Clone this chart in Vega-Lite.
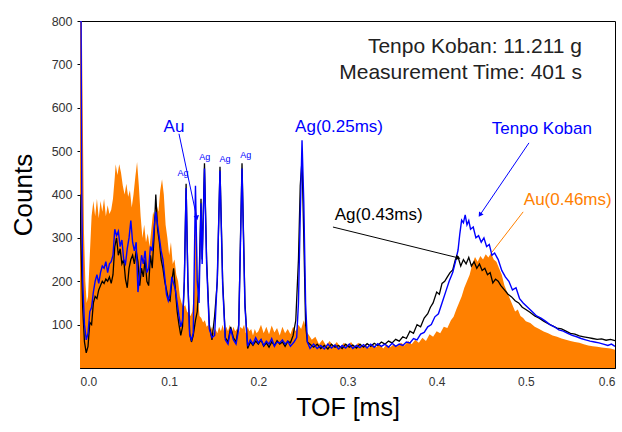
{
  "$schema": "https://vega.github.io/schema/vega-lite/v6.json",
  "width": 535,
  "height": 347,
  "autosize": {"type": "none"},
  "padding": {"left": 80, "top": 21, "right": 7, "bottom": 64},
  "background": "white",
  "config": {
    "view": {"stroke": "#000", "strokeWidth": 1},
    "font": "Liberation Sans",
    "axis": {"grid": false, "domainColor": "#000", "tickColor": "#000", "labelFont": "Liberation Sans", "titleFont": "Liberation Sans", "titleFontWeight": "normal", "labelColor": "#333"}
  },
  "datasets": {
    "au": [
      {"t":0,"c":800},{"t":0.002,"c":800},{"t":0.003,"c":600},{"t":0.0045,"c":310},{"t":0.006,"c":200},{"t":0.0075,"c":150},{"t":0.009,"c":165},{"t":0.011,"c":260},{"t":0.013,"c":350},{"t":0.015,"c":385},{"t":0.017,"c":350},{"t":0.019,"c":390},{"t":0.021,"c":345},{"t":0.023,"c":385},{"t":0.025,"c":360},{"t":0.027,"c":390},{"t":0.029,"c":350},{"t":0.031,"c":375},{"t":0.033,"c":355},{"t":0.035,"c":365},{"t":0.037,"c":390},{"t":0.039,"c":440},{"t":0.040,"c":470},{"t":0.042,"c":445},{"t":0.044,"c":470},{"t":0.046,"c":450},{"t":0.048,"c":420},{"t":0.050,"c":400},{"t":0.052,"c":425},{"t":0.054,"c":395},{"t":0.056,"c":410},{"t":0.058,"c":370},{"t":0.060,"c":400},{"t":0.062,"c":440},{"t":0.064,"c":475},{"t":0.066,"c":420},{"t":0.068,"c":350},{"t":0.070,"c":300},{"t":0.072,"c":330},{"t":0.074,"c":290},{"t":0.076,"c":310},{"t":0.078,"c":280},{"t":0.080,"c":320},{"t":0.082,"c":360},{"t":0.084,"c":345},{"t":0.086,"c":375},{"t":0.088,"c":360},{"t":0.090,"c":410},{"t":0.092,"c":435},{"t":0.094,"c":400},{"t":0.096,"c":330},{"t":0.098,"c":300},{"t":0.100,"c":260},{"t":0.102,"c":290},{"t":0.104,"c":240},{"t":0.106,"c":250},{"t":0.108,"c":215},{"t":0.110,"c":200},{"t":0.112,"c":165},{"t":0.114,"c":150},{"t":0.116,"c":140},{"t":0.118,"c":145},{"t":0.120,"c":130},{"t":0.122,"c":125},{"t":0.124,"c":120},{"t":0.126,"c":130},{"t":0.128,"c":180},{"t":0.129,"c":320},{"t":0.130,"c":380},{"t":0.131,"c":330},{"t":0.132,"c":170},{"t":0.134,"c":120},{"t":0.136,"c":115},{"t":0.138,"c":105},{"t":0.140,"c":110},{"t":0.142,"c":95},{"t":0.144,"c":100},{"t":0.146,"c":85},{"t":0.148,"c":95},{"t":0.150,"c":80},{"t":0.152,"c":90},{"t":0.154,"c":80},{"t":0.156,"c":95},{"t":0.158,"c":85},{"t":0.160,"c":100},{"t":0.162,"c":80},{"t":0.164,"c":95},{"t":0.166,"c":85},{"t":0.168,"c":100},{"t":0.170,"c":80},{"t":0.172,"c":95},{"t":0.174,"c":85},{"t":0.176,"c":90},{"t":0.178,"c":80},{"t":0.180,"c":95},{"t":0.182,"c":90},{"t":0.184,"c":100},{"t":0.186,"c":80},{"t":0.188,"c":95},{"t":0.190,"c":85},{"t":0.192,"c":90},{"t":0.194,"c":75},{"t":0.196,"c":90},{"t":0.198,"c":80},{"t":0.200,"c":85},{"t":0.203,"c":100},{"t":0.206,"c":80},{"t":0.209,"c":95},{"t":0.212,"c":78},{"t":0.215,"c":98},{"t":0.218,"c":82},{"t":0.221,"c":92},{"t":0.224,"c":75},{"t":0.227,"c":95},{"t":0.230,"c":80},{"t":0.233,"c":90},{"t":0.236,"c":78},{"t":0.239,"c":95},{"t":0.242,"c":85},{"t":0.245,"c":100},{"t":0.248,"c":90},{"t":0.251,"c":110},{"t":0.254,"c":85},{"t":0.257,"c":75},{"t":0.260,"c":65},{"t":0.264,"c":72},{"t":0.268,"c":55},{"t":0.272,"c":65},{"t":0.276,"c":52},{"t":0.280,"c":62},{"t":0.284,"c":50},{"t":0.288,"c":60},{"t":0.292,"c":48},{"t":0.296,"c":58},{"t":0.300,"c":50},{"t":0.304,"c":60},{"t":0.308,"c":48},{"t":0.312,"c":58},{"t":0.316,"c":50},{"t":0.320,"c":55},{"t":0.324,"c":46},{"t":0.328,"c":56},{"t":0.332,"c":48},{"t":0.336,"c":55},{"t":0.340,"c":45},{"t":0.344,"c":54},{"t":0.348,"c":48},{"t":0.352,"c":55},{"t":0.356,"c":50},{"t":0.360,"c":58},{"t":0.364,"c":52},{"t":0.368,"c":62},{"t":0.372,"c":55},{"t":0.376,"c":65},{"t":0.380,"c":58},{"t":0.384,"c":70},{"t":0.388,"c":62},{"t":0.392,"c":78},{"t":0.396,"c":72},{"t":0.400,"c":85},{"t":0.404,"c":80},{"t":0.408,"c":95},{"t":0.412,"c":92},{"t":0.416,"c":110},{"t":0.419,"c":118},{"t":0.422,"c":135},{"t":0.425,"c":150},{"t":0.428,"c":165},{"t":0.431,"c":185},{"t":0.434,"c":200},{"t":0.437,"c":215},{"t":0.440,"c":240},{"t":0.443,"c":256},{"t":0.446,"c":245},{"t":0.449,"c":258},{"t":0.452,"c":250},{"t":0.455,"c":262},{"t":0.458,"c":255},{"t":0.461,"c":265},{"t":0.464,"c":250},{"t":0.467,"c":245},{"t":0.470,"c":230},{"t":0.473,"c":215},{"t":0.476,"c":190},{"t":0.479,"c":175},{"t":0.482,"c":160},{"t":0.485,"c":145},{"t":0.488,"c":130},{"t":0.491,"c":135},{"t":0.494,"c":120},{"t":0.497,"c":115},{"t":0.500,"c":108},{"t":0.505,"c":104},{"t":0.510,"c":95},{"t":0.515,"c":90},{"t":0.520,"c":84},{"t":0.525,"c":80},{"t":0.530,"c":75},{"t":0.535,"c":72},{"t":0.540,"c":68},{"t":0.545,"c":65},{"t":0.550,"c":62},{"t":0.555,"c":60},{"t":0.560,"c":58},{"t":0.565,"c":55},{"t":0.570,"c":52},{"t":0.575,"c":50},{"t":0.580,"c":49},{"t":0.585,"c":47},{"t":0.590,"c":46},{"t":0.595,"c":45},{"t":0.600,"c":42}
    ],
    "ag": [
      {"t":0,"c":400},{"t":0.001,"c":290},{"t":0.003,"c":140},{"t":0.005,"c":60},{"t":0.007,"c":35},{"t":0.009,"c":50},{"t":0.011,"c":105},{"t":0.013,"c":100},{"t":0.015,"c":150},{"t":0.017,"c":165},{"t":0.019,"c":160},{"t":0.021,"c":180},{"t":0.023,"c":190},{"t":0.025,"c":200},{"t":0.027,"c":195},{"t":0.029,"c":205},{"t":0.031,"c":200},{"t":0.033,"c":210},{"t":0.035,"c":195},{"t":0.037,"c":215},{"t":0.039,"c":280},{"t":0.041,"c":300},{"t":0.043,"c":260},{"t":0.045,"c":275},{"t":0.047,"c":240},{"t":0.049,"c":250},{"t":0.051,"c":205},{"t":0.053,"c":185},{"t":0.055,"c":230},{"t":0.057,"c":250},{"t":0.059,"c":260},{"t":0.061,"c":240},{"t":0.063,"c":270},{"t":0.065,"c":245},{"t":0.067,"c":190},{"t":0.069,"c":230},{"t":0.071,"c":210},{"t":0.073,"c":250},{"t":0.075,"c":200},{"t":0.077,"c":190},{"t":0.079,"c":260},{"t":0.081,"c":230},{"t":0.083,"c":300},{"t":0.085,"c":400},{"t":0.087,"c":320},{"t":0.089,"c":290},{"t":0.091,"c":250},{"t":0.093,"c":230},{"t":0.095,"c":200},{"t":0.097,"c":180},{"t":0.099,"c":160},{"t":0.101,"c":155},{"t":0.103,"c":200},{"t":0.105,"c":230},{"t":0.107,"c":180},{"t":0.109,"c":130},{"t":0.111,"c":100},{"t":0.113,"c":75},{"t":0.115,"c":95},{"t":0.117,"c":200},{"t":0.119,"c":425},{"t":0.121,"c":200},{"t":0.123,"c":80},{"t":0.125,"c":60},{"t":0.127,"c":75},{"t":0.1295,"c":110},{"t":0.1315,"c":130},{"t":0.1335,"c":200},{"t":0.1357,"c":390},{"t":0.137,"c":250},{"t":0.1396,"c":472},{"t":0.142,"c":250},{"t":0.145,"c":100},{"t":0.148,"c":65},{"t":0.151,"c":120},{"t":0.154,"c":200},{"t":0.157,"c":464},{"t":0.160,"c":200},{"t":0.163,"c":70},{"t":0.166,"c":60},{"t":0.169,"c":95},{"t":0.172,"c":70},{"t":0.175,"c":60},{"t":0.178,"c":100},{"t":0.1817,"c":472},{"t":0.185,"c":150},{"t":0.188,"c":45},{"t":0.191,"c":60},{"t":0.194,"c":52},{"t":0.197,"c":62},{"t":0.200,"c":55},{"t":0.203,"c":65},{"t":0.206,"c":50},{"t":0.209,"c":58},{"t":0.212,"c":48},{"t":0.215,"c":60},{"t":0.218,"c":52},{"t":0.221,"c":63},{"t":0.224,"c":55},{"t":0.227,"c":60},{"t":0.230,"c":50},{"t":0.233,"c":62},{"t":0.236,"c":58},{"t":0.239,"c":75},{"t":0.242,"c":110},{"t":0.245,"c":250},{"t":0.247,"c":420},{"t":0.249,"c":480},{"t":0.251,"c":300},{"t":0.253,"c":100},{"t":0.255,"c":60},{"t":0.258,"c":55},{"t":0.262,"c":48},{"t":0.266,"c":55},{"t":0.270,"c":45},{"t":0.274,"c":52},{"t":0.278,"c":44},{"t":0.282,"c":55},{"t":0.286,"c":48},{"t":0.290,"c":52},{"t":0.294,"c":45},{"t":0.298,"c":55},{"t":0.302,"c":48},{"t":0.306,"c":53},{"t":0.310,"c":46},{"t":0.314,"c":55},{"t":0.318,"c":48},{"t":0.322,"c":56},{"t":0.326,"c":50},{"t":0.330,"c":57},{"t":0.334,"c":52},{"t":0.338,"c":60},{"t":0.342,"c":55},{"t":0.346,"c":62},{"t":0.350,"c":58},{"t":0.354,"c":66},{"t":0.358,"c":62},{"t":0.362,"c":72},{"t":0.366,"c":68},{"t":0.370,"c":85},{"t":0.374,"c":80},{"t":0.378,"c":100},{"t":0.382,"c":95},{"t":0.386,"c":115},{"t":0.390,"c":125},{"t":0.393,"c":140},{"t":0.396,"c":150},{"t":0.400,"c":175},{"t":0.403,"c":170},{"t":0.406,"c":195},{"t":0.409,"c":200},{"t":0.412,"c":210},{"t":0.415,"c":220},{"t":0.418,"c":226},{"t":0.421,"c":250},{"t":0.424,"c":256},{"t":0.427,"c":235},{"t":0.430,"c":250},{"t":0.433,"c":240},{"t":0.436,"c":255},{"t":0.439,"c":235},{"t":0.442,"c":245},{"t":0.445,"c":230},{"t":0.448,"c":240},{"t":0.451,"c":225},{"t":0.454,"c":230},{"t":0.457,"c":215},{"t":0.460,"c":220},{"t":0.463,"c":196},{"t":0.466,"c":205},{"t":0.469,"c":200},{"t":0.472,"c":190},{"t":0.476,"c":180},{"t":0.480,"c":170},{"t":0.484,"c":164},{"t":0.488,"c":155},{"t":0.492,"c":150},{"t":0.496,"c":140},{"t":0.500,"c":135},{"t":0.505,"c":128},{"t":0.510,"c":120},{"t":0.515,"c":115},{"t":0.520,"c":108},{"t":0.525,"c":102},{"t":0.530,"c":97},{"t":0.535,"c":92},{"t":0.540,"c":90},{"t":0.545,"c":85},{"t":0.550,"c":80},{"t":0.555,"c":78},{"t":0.560,"c":74},{"t":0.565,"c":72},{"t":0.570,"c":70},{"t":0.575,"c":68},{"t":0.580,"c":66},{"t":0.585,"c":67},{"t":0.590,"c":64},{"t":0.595,"c":66},{"t":0.600,"c":63}
    ],
    "koban": [
      {"t":0,"c":800},{"t":0.0012,"c":800},{"t":0.002,"c":400},{"t":0.003,"c":200},{"t":0.005,"c":100},{"t":0.007,"c":65},{"t":0.009,"c":80},{"t":0.011,"c":130},{"t":0.013,"c":140},{"t":0.015,"c":175},{"t":0.017,"c":200},{"t":0.019,"c":215},{"t":0.021,"c":195},{"t":0.023,"c":220},{"t":0.025,"c":235},{"t":0.027,"c":230},{"t":0.029,"c":245},{"t":0.031,"c":220},{"t":0.033,"c":240},{"t":0.035,"c":245},{"t":0.037,"c":260},{"t":0.039,"c":320},{"t":0.041,"c":305},{"t":0.043,"c":315},{"t":0.045,"c":280},{"t":0.047,"c":295},{"t":0.049,"c":250},{"t":0.051,"c":240},{"t":0.053,"c":275},{"t":0.055,"c":300},{"t":0.057,"c":340},{"t":0.059,"c":290},{"t":0.061,"c":270},{"t":0.063,"c":290},{"t":0.065,"c":175},{"t":0.067,"c":215},{"t":0.069,"c":260},{"t":0.071,"c":240},{"t":0.073,"c":270},{"t":0.075,"c":220},{"t":0.077,"c":230},{"t":0.079,"c":280},{"t":0.081,"c":270},{"t":0.083,"c":320},{"t":0.085,"c":360},{"t":0.087,"c":330},{"t":0.089,"c":300},{"t":0.091,"c":270},{"t":0.093,"c":250},{"t":0.095,"c":210},{"t":0.097,"c":170},{"t":0.099,"c":155},{"t":0.101,"c":170},{"t":0.103,"c":210},{"t":0.105,"c":195},{"t":0.107,"c":180},{"t":0.109,"c":150},{"t":0.111,"c":120},{"t":0.113,"c":95},{"t":0.115,"c":110},{"t":0.117,"c":200},{"t":0.119,"c":415},{"t":0.121,"c":200},{"t":0.123,"c":75},{"t":0.125,"c":65},{"t":0.127,"c":80},{"t":0.1295,"c":420},{"t":0.1315,"c":200},{"t":0.1335,"c":150},{"t":0.1357,"c":380},{"t":0.137,"c":240},{"t":0.1396,"c":460},{"t":0.142,"c":240},{"t":0.145,"c":90},{"t":0.148,"c":70},{"t":0.151,"c":75},{"t":0.154,"c":210},{"t":0.157,"c":455},{"t":0.160,"c":190},{"t":0.163,"c":65},{"t":0.166,"c":55},{"t":0.169,"c":90},{"t":0.172,"c":65},{"t":0.175,"c":55},{"t":0.178,"c":90},{"t":0.1817,"c":460},{"t":0.185,"c":140},{"t":0.188,"c":50},{"t":0.191,"c":65},{"t":0.194,"c":55},{"t":0.197,"c":70},{"t":0.200,"c":58},{"t":0.203,"c":66},{"t":0.206,"c":52},{"t":0.209,"c":62},{"t":0.212,"c":55},{"t":0.215,"c":68},{"t":0.218,"c":50},{"t":0.221,"c":60},{"t":0.224,"c":58},{"t":0.227,"c":65},{"t":0.230,"c":55},{"t":0.233,"c":62},{"t":0.236,"c":50},{"t":0.240,"c":60},{"t":0.243,"c":70},{"t":0.245,"c":150},{"t":0.247,"c":350},{"t":0.249,"c":525},{"t":0.251,"c":380},{"t":0.253,"c":150},{"t":0.255,"c":60},{"t":0.258,"c":45},{"t":0.262,"c":55},{"t":0.266,"c":45},{"t":0.270,"c":52},{"t":0.274,"c":44},{"t":0.278,"c":55},{"t":0.282,"c":46},{"t":0.286,"c":53},{"t":0.290,"c":44},{"t":0.294,"c":52},{"t":0.298,"c":46},{"t":0.302,"c":55},{"t":0.306,"c":45},{"t":0.310,"c":52},{"t":0.314,"c":47},{"t":0.318,"c":54},{"t":0.322,"c":46},{"t":0.326,"c":55},{"t":0.330,"c":48},{"t":0.334,"c":56},{"t":0.338,"c":50},{"t":0.342,"c":55},{"t":0.346,"c":48},{"t":0.350,"c":57},{"t":0.354,"c":50},{"t":0.358,"c":55},{"t":0.362,"c":52},{"t":0.366,"c":60},{"t":0.370,"c":58},{"t":0.374,"c":68},{"t":0.378,"c":65},{"t":0.382,"c":78},{"t":0.386,"c":82},{"t":0.390,"c":95},{"t":0.394,"c":100},{"t":0.398,"c":118},{"t":0.402,"c":125},{"t":0.406,"c":150},{"t":0.410,"c":175},{"t":0.414,"c":200},{"t":0.418,"c":220},{"t":0.421,"c":245},{"t":0.424,"c":272},{"t":0.426,"c":310},{"t":0.428,"c":341},{"t":0.430,"c":335},{"t":0.432,"c":353},{"t":0.434,"c":330},{"t":0.436,"c":340},{"t":0.438,"c":320},{"t":0.441,"c":325},{"t":0.444,"c":300},{"t":0.447,"c":305},{"t":0.450,"c":290},{"t":0.453,"c":300},{"t":0.456,"c":280},{"t":0.459,"c":285},{"t":0.462,"c":260},{"t":0.465,"c":265},{"t":0.469,"c":250},{"t":0.473,"c":225},{"t":0.477,"c":210},{"t":0.481,"c":200},{"t":0.485,"c":180},{"t":0.489,"c":185},{"t":0.493,"c":160},{"t":0.497,"c":150},{"t":0.502,"c":140},{"t":0.507,"c":130},{"t":0.512,"c":120},{"t":0.517,"c":115},{"t":0.522,"c":108},{"t":0.527,"c":100},{"t":0.532,"c":95},{"t":0.537,"c":88},{"t":0.542,"c":85},{"t":0.547,"c":80},{"t":0.552,"c":75},{"t":0.557,"c":72},{"t":0.562,"c":68},{"t":0.567,"c":65},{"t":0.572,"c":62},{"t":0.577,"c":60},{"t":0.582,"c":58},{"t":0.587,"c":55},{"t":0.592,"c":52},{"t":0.596,"c":55},{"t":0.600,"c":50}
    ],
    "notes": [
      {"t":0.563,"c":740,"label":"Tenpo Koban: 11.211 g","g":"info"},
      {"t":0.563,"c":680,"label":"Measurement Time: 401 s","g":"info"},
      {"t":0.1054,"c":555,"label":"Au","g":"blue"},
      {"t":0.2905,"c":555,"label":"Ag(0.25ms)","g":"blue"},
      {"t":0.518,"c":552,"label":"Tenpo Koban","g":"blue"},
      {"t":0.335,"c":353,"label":"Ag(0.43ms)","g":"black"},
      {"t":0.547,"c":387,"label":"Au(0.46ms)","g":"orange"},
      {"t":0.1155,"c":449,"label":"Ag","g":"small"},
      {"t":0.140,"c":486,"label":"Ag","g":"small"},
      {"t":0.1626,"c":482,"label":"Ag","g":"small"},
      {"t":0.186,"c":491,"label":"Ag","g":"small"}
    ],
    "arrows": [
      {"name":"au","t":0.111,"c":540,"t2":0.131,"c2":346,"g":"blue"},
      {"name":"koban","t":0.5035,"c":519,"t2":0.4486,"c2":353,"g":"blue"},
      {"name":"ag43","t":0.2837,"c":325,"t2":0.424,"c2":254,"g":"black"},
      {"name":"au46","t":0.497,"c":360,"t2":0.462,"c2":267,"g":"orange"}
    ]
  },
  "encoding": {
    "x": {"field": "t", "type": "quantitative",
      "scale": {"domain": [0, 0.6], "nice": false, "zero": false},
      "axis": {"values": [0, 0.1, 0.2, 0.3, 0.4, 0.5, 0.6], "format": ".1f", "title": "TOF [ms]", "titleFontSize": 25, "titlePadding": 8, "labelFontSize": 12, "ticks": false, "labelPadding": 8, "domain": true}},
    "y": {"field": "c", "type": "quantitative",
      "scale": {"domain": [0, 800], "nice": false},
      "axis": {"values": [100, 200, 300, 400, 500, 600, 700, 800], "title": "Counts", "titleFontSize": 26, "titlePadding": 15, "labelFontSize": 12.5, "tickSize": 3, "labelPadding": 5}}
  },
  "layer": [
    {"data": {"name": "au"}, "mark": {"type": "area", "color": "#FF8000", "clip": true}, "encoding": {}},
    {"data": {"name": "ag"}, "mark": {"type": "line", "color": "#000000", "strokeWidth": 1.3, "clip": true}, "encoding": {}},
    {"data": {"name": "koban"}, "mark": {"type": "line", "color": "#0000FF", "strokeWidth": 1.4, "clip": true}, "encoding": {}},
    {"data": {"name": "arrows"}, "mark": {"type": "rule", "strokeWidth": 1},
      "encoding": {"x2": {"field": "t2"}, "y2": {"field": "c2"},
        "color": {"field": "g", "type": "nominal", "scale": {"domain": ["blue", "black", "orange", "info", "small"], "range": ["#0000FF", "#000000", "#FF8000", "#222222", "#0000FF"]}, "legend": null}}},
    {"data": {"name": "arrows"}, "transform": [{"filter": "datum.name == 'au'"}], "mark": {"type": "point", "shape": "triangle-up", "filled": true, "size": 30, "angle": 168, "color": "#0000FF", "opacity": 1},
      "encoding": {"x": {"field": "t2", "type": "quantitative"}, "y": {"field": "c2", "type": "quantitative"}}},
    {"data": {"name": "arrows"}, "transform": [{"filter": "datum.name == 'koban'"}], "mark": {"type": "point", "shape": "triangle-up", "filled": true, "size": 30, "angle": 214, "color": "#0000FF", "opacity": 1},
      "encoding": {"x": {"field": "t2", "type": "quantitative"}, "y": {"field": "c2", "type": "quantitative"}}},
    {"data": {"name": "arrows"}, "transform": [{"filter": "datum.name == 'ag43'"}], "mark": {"type": "point", "shape": "triangle-up", "filled": true, "size": 30, "angle": 104, "color": "#000000", "opacity": 1},
      "encoding": {"x": {"field": "t2", "type": "quantitative"}, "y": {"field": "c2", "type": "quantitative"}}},
    {"data": {"name": "notes"}, "transform": [{"filter": "datum.g == 'info'"}], "mark": {"type": "text", "align": "right", "baseline": "middle", "fontSize": 21, "color": "#222222", "font": "Liberation Sans"},
      "encoding": {"text": {"field": "label"}}},
    {"data": {"name": "notes"}, "transform": [{"filter": "datum.g == 'blue' || datum.g == 'black' || datum.g == 'orange'"}], "mark": {"type": "text", "align": "center", "baseline": "middle", "fontSize": 17, "font": "Liberation Sans"},
      "encoding": {"text": {"field": "label"}, "color": {"field": "g", "type": "nominal", "legend": null}}},
    {"data": {"name": "notes"}, "transform": [{"filter": "datum.g == 'small'"}], "mark": {"type": "text", "align": "center", "baseline": "middle", "fontSize": 9, "color": "#0000FF", "font": "Liberation Sans"},
      "encoding": {"text": {"field": "label"}}}
  ]
}
